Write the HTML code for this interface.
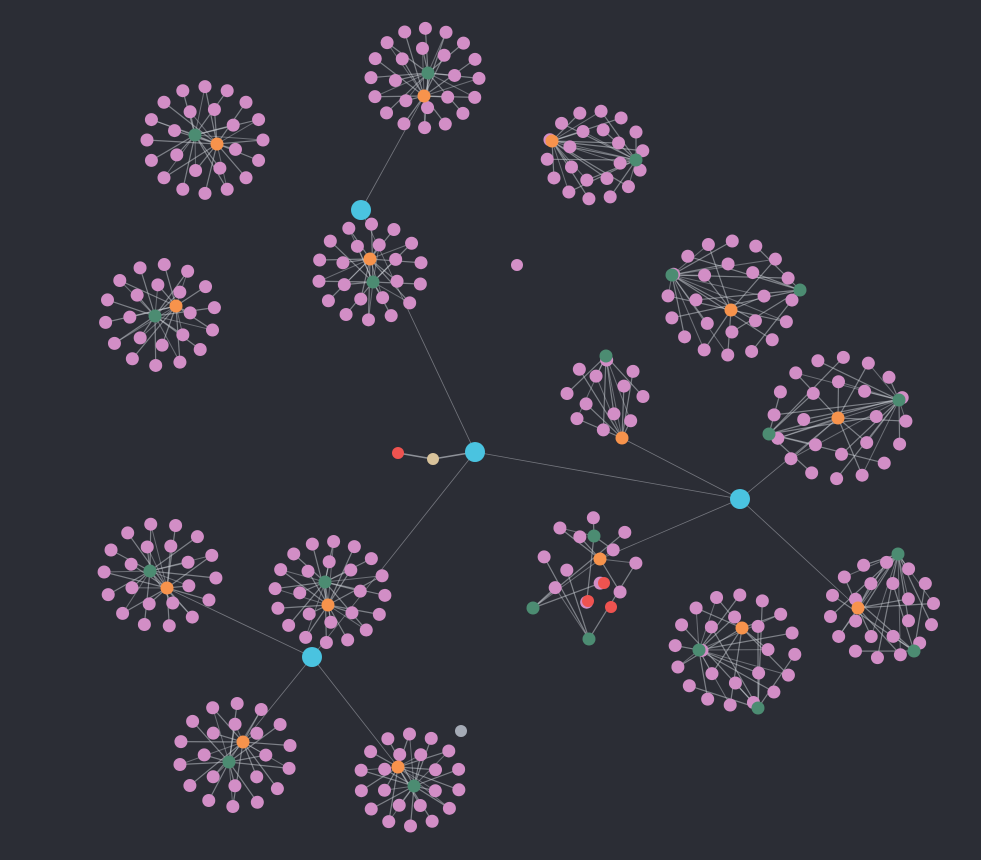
<!DOCTYPE html>
<html><head><meta charset="utf-8">
<style>
html,body{margin:0;padding:0;background:#2b2d35;}
svg{display:block;}
text{font-family:"Liberation Sans",sans-serif;}
</style></head>
<body>
<svg id="g" width="981" height="860" viewBox="0 0 981 860">
<rect width="981" height="860" fill="#2b2d35"/>
<g id="edges"></g><g id="nodes"></g>
</svg>
<script>
// cluster data: [centerX, centerY], radius, pink count
const clusterCenters = [[205,140],[425,78],[595,155],[160,315],[370,272],[730,298],[605,395],[840,418],[160,575],[330,592],[590,560],[735,650],[882,610],[235,755],[410,780]];
const clusterRadius = [58,54,48,55,52,62,38,66,56,55,46,60,52,56,50];
const pinkCounts = [24,24,22,22,22,24,12,24,22,24,12,24,22,22,22];
const orangeHubs = [[217,144],[424,96],[552,141],[176,306],[370,259],[731,310],[622,438],[838,418],[167,588],[328,605],[600,559],[742,628],[858,608],[243,742],[398,767]];
const greenHubs = [[[195,135]],[[428,73]],[[636,160]],[[155,316]],[[373,282]],[[672,275],[800,290]],[[606,356]],[[899,400],[769,434]],[[150,571]],[[325,582]],[[594,536],[533,608],[589,639]],[[699,650],[758,708]],[[898,554],[914,651]],[[229,762]],[[414,786]]];
const blueNodes = [[475,452],[740,499],[361,210],[312,657]];
const blueLinks = [[0,2],[0,3],[0,1]];
const blueToOrange = [[2,1],[1,6],[1,7],[1,12],[1,10],[3,14],[3,13],[3,8]];
const extraNodes = [[398,453,'#ef5350'],[433,459,'#d9c39b'],[517,265,'#d490c8'],[461,731,'#a5abb6'],[604,583,'#ef5350'],[588,601,'#ef5350'],[611,607,'#ef5350']];

const NS='http://www.w3.org/2000/svg';
const E=document.getElementById('edges'),N=document.getElementById('nodes');
function line(a,b,w,op,name){const l=document.createElementNS(NS,'line');
l.setAttribute('x1',a[0]);l.setAttribute('y1',a[1]);l.setAttribute('x2',b[0]);l.setAttribute('y2',b[1]);
l.setAttribute('stroke','#d0d3da');l.setAttribute('stroke-width',w);l.setAttribute('stroke-opacity',op);


E.appendChild(l);}
function node(p,r,fill,name){const c=document.createElementNS(NS,'circle');
c.setAttribute('cx',p[0]);c.setAttribute('cy',p[1]);c.setAttribute('r',r);c.setAttribute('fill',fill);


N.appendChild(c);}

blueLinks.forEach(([a,b])=>line(blueNodes[a],blueNodes[b],0.8,0.45,'link-edge'));
blueToOrange.forEach(([a,b])=>line(blueNodes[a],orangeHubs[b],0.8,0.45,'link-edge'));
line(blueNodes[0],[433,459],1.5,0.6,'link-edge');line([433,459],[398,453],1.5,0.6,'link-edge');

clusterCenters.forEach((c,i)=>{
  const n=pinkCounts[i],R=clusterRadius[i];
  const inner=Math.round(n*0.35),outer=n-inner;
  const pts=[];
  for(let k=0;k<outer;k++){const a=k/outer*6.283+i*0.4;pts.push([c[0]+R*Math.cos(a),c[1]+R*0.92*Math.sin(a)]);}
  for(let k=0;k<inner;k++){const a=k/inner*6.283+i*0.4+0.3;pts.push([c[0]+R*0.55*Math.cos(a),c[1]+R*0.55*Math.sin(a)]);}
  const hubs=[orangeHubs[i]].concat(greenHubs[i]);
  pts.forEach((p,k)=>{line(p,hubs[k%hubs.length],1.2,0.5,'cluster-edge');if(k%3==0&&hubs.length>1)line(p,hubs[(k+1)%hubs.length],1,0.4,'cluster-edge');});
  pts.forEach(p=>node(p,6.5,'#d28ec6','entity-node'));
  greenHubs[i].forEach(g=>node(g,6.5,'#4c8c72','category-node'));
  node(orangeHubs[i],6.5,'#f7934c','hub-node');
});
blueNodes.forEach(b=>node(b,10,'#4ac3e0','root-node'));
extraNodes.forEach(e=>node([e[0],e[1]],6,e[2],'extra-node'));
</script>
</body></html>
